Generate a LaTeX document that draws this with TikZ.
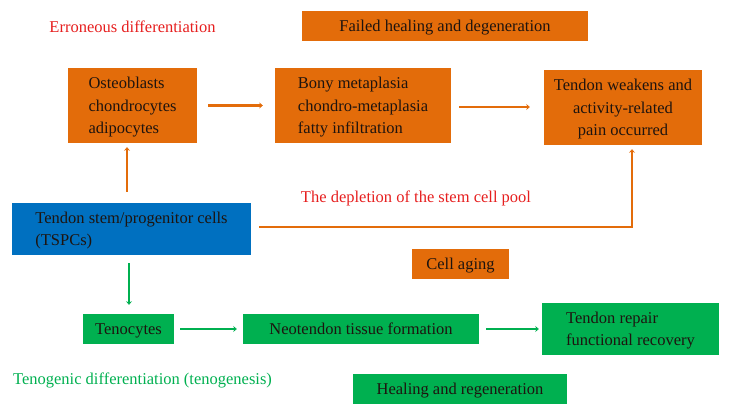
\documentclass[tikz,border=0pt]{standalone}
\usepackage{fontspec}
\setmainfont{Liberation Serif}
\usepackage{tikz}
\usetikzlibrary{arrows.meta,positioning}
\usepackage{xcolor}
\definecolor{tdorange}{RGB}{227,108,10}
\definecolor{tdblue}{RGB}{0,112,192}
\definecolor{tdgreen}{RGB}{0,176,80}
\definecolor{tdred}{RGB}{230,30,30}
\definecolor{tdtext}{RGB}{30,20,15}
\tikzstyle{cellbox} = [inner sep=0pt, align=left, text depth=0pt, text=tdtext, font=\fontsize{16.5}{22.5}\selectfont]
\tikzstyle{obox} = [cellbox, fill=tdorange]
\tikzstyle{gbox} = [cellbox, fill=tdgreen]
\tikzstyle{bbox} = [cellbox, fill=tdblue]
\tikzstyle{label} = [font=\fontsize{16.5}{22.5}\selectfont]
\tikzstyle{oarrow} = [line width=2.4pt,-{Stealth[length=3.5pt,width=6pt]},color=tdorange]
\tikzstyle{garrow} = [line width=2.4pt,-{Stealth[length=3.5pt,width=6pt]},color=tdgreen]

\begin{document}
\begin{tikzpicture}[x=1pt, y=-1pt]
\useasboundingbox (0,0) rectangle (730,415);

% Degeneration pathway (orange)
\node[obox, minimum width=286pt, minimum height=30pt] (failed) at (445,26) {Failed healing and degeneration};
\node[obox, minimum width=129pt, minimum height=75pt] (osteo) at (132.5,105.5) {Osteoblasts\\chondrocytes\\adipocytes};
\node[obox, minimum width=176pt, minimum height=75pt] (bony) at (363,105.5) {Bony metaplasia\\chondro-metaplasia\\fatty infiltration};
\node[obox, minimum width=158pt, minimum height=75pt, align=center] (weak) at (623,107.5) {Tendon weakens and\\activity-related\\pain occurred};
\node[obox, minimum width=97pt, minimum height=30pt] (aging) at (460.5,264) {Cell aging};

% Stem cells
\node[bbox, minimum width=239pt, minimum height=52pt] (tspc) at (131.5,229) {Tendon stem/progenitor cells\\(TSPCs)};

% Healing pathway (green)
\node[gbox, minimum width=91pt, minimum height=30pt] (teno) at (128.5,329) {Tenocytes};
\node[gbox, minimum width=236pt, minimum height=30pt] (neo) at (361,329) {Neotendon tissue formation};
\node[gbox, minimum width=177pt, minimum height=52pt] (repair) at (630.5,329) {Tendon repair\\functional recovery};
\node[gbox, minimum width=214pt, minimum height=30pt] (heal) at (460,389) {Healing and regeneration};

% Labels
\node[label, text=tdred] (err) at (132.5,27) {Erroneous differentiation};
\node[label, text=tdred] (depl) at (416,198) {The depletion of the stem cell pool};
\node[label, text=tdgreen] (tenog) at (142.5,380) {Tenogenic differentiation (tenogenesis)};

% Arrows
\draw[oarrow] ([xshift=-4.5pt,yshift=11pt]tspc.north) -- ([xshift=-5.5pt,yshift=-4pt]osteo.south);
\draw[oarrow] ([xshift=11pt]osteo.east) -- ([xshift=-12pt]bony.west);
\draw[oarrow] ([xshift=8pt,yshift=-1.5pt]bony.east) -- ([xshift=-14pt,yshift=0.5pt]weak.west);
\draw[oarrow] ([xshift=8pt,yshift=2pt]tspc.east) -| ([xshift=9pt,yshift=-4pt]weak.south);
\draw[garrow] ([xshift=-2.5pt,yshift=-8pt]tspc.south) -- ([xshift=0.5pt,yshift=9pt]teno.north);
\draw[garrow] ([xshift=6pt]teno.east) -- ([xshift=-6pt]neo.west);
\draw[garrow] ([xshift=7pt]neo.east) -- ([xshift=-3pt]repair.west);
\end{tikzpicture}
\end{document}
